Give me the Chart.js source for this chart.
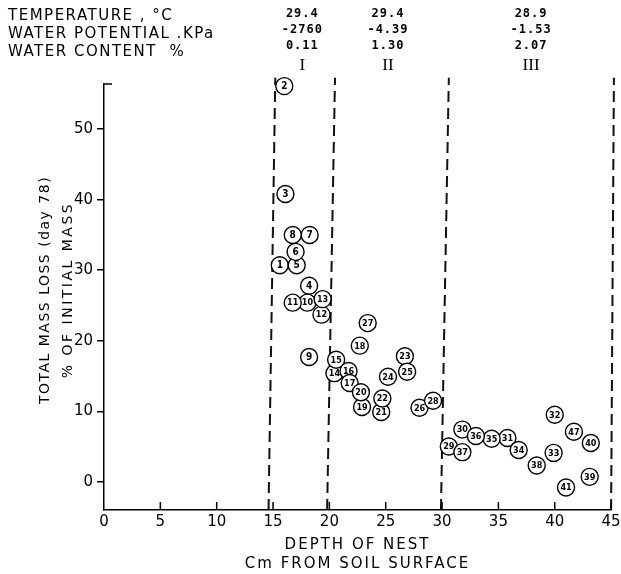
<!DOCTYPE html>
<html>
<head>
<meta charset="utf-8">
<script src="https://cdn.jsdelivr.net/npm/chart.js@4"></script>
<style>
  html, body { margin: 0; padding: 0; background: #fff; }
  #box { width: 621px; height: 574px; }
</style>
</head>
<body>
<div id="box"><canvas id="miGrafica" width="621" height="574"></canvas></div>
<script>
'use strict'

// DATOS
const nestIds = ['1','2','3','4','5','6','7','8','9','10','11','12','13','14','15','16','17','18','19','20',
  '21','22','23','24','25','26','27','28','29','30','31','32','33','34','35','36','37','38','39','40','41','47'];
const depths = [15.6, 16.0, 16.1, 18.2, 17.1, 17.0, 18.25, 16.75, 18.2, 18.05, 16.75, 19.3, 19.4, 20.45, 20.6,
  21.7, 21.8, 22.7, 22.9, 22.8, 24.6, 24.7, 26.7, 25.2, 26.9, 28.0, 23.4, 29.2, 30.6, 31.8, 35.8, 40.0, 39.9,
  36.8, 34.4, 33.0, 31.8, 38.4, 43.1, 43.2, 41.0, 41.7];
const massLoss = [30.7, 56.1, 40.8, 27.8, 30.7, 32.6, 35.0, 35.0, 17.7, 25.4, 25.4, 23.7, 25.9, 15.4, 17.3,
  15.7, 14.0, 19.3, 10.6, 12.7, 9.9, 11.8, 17.8, 14.9, 15.6, 10.5, 22.5, 11.5, 5.0, 7.4, 6.2, 9.5, 4.1,
  4.5, 6.1, 6.5, 4.2, 2.3, 0.7, 5.5, -0.8, 7.1];

// LIMITES DE LAS ZONAS (lineas discontinuas), abajo y arriba
const zoneBottomX = [14.6, 19.8, 29.9, 45.0];
const zoneTopX = [15.2, 20.5, 30.6, 45.25];
const zoneYRange = [-4, 57.3];

// CABECERA
const headerLabels = ['TEMPERATURE , °C', 'WATER POTENTIAL .KPa', 'WATER CONTENT  %'];
const zoneNames = ['I', 'II', 'III'];
const zoneTemperature = ['29.4', '29.4', '28.9'];
const zonePotential = ['-2760', '-4.39', '-1.53'];
const zoneContent = ['0.11', '1.30', '2.07'];
const zoneCenterX = [17.6, 25.2, 37.9];

const xTickValues = [0, 5, 10, 15, 20, 25, 30, 35, 40, 45];

const zoneDatasets = zoneBottomX.map((xb, i) => ({
  type: 'line',
  data: [{ x: xb, y: zoneYRange[0] }, { x: zoneTopX[i], y: zoneYRange[1] }],
  borderColor: '#111',
  borderWidth: 2,
  borderDash: [11, 6],
  pointRadius: 0,
  clip: false,
  order: 2
}));

// DIBUJA TEXTOS, NUMEROS DENTRO DE LOS CIRCULOS Y MARCAS DEL EJE X
const textosPlugin = {
  id: 'textos',
  afterDatasetsDraw(chart) {
    const ctx = chart.ctx;
    const meta = chart.getDatasetMeta(0);
    ctx.save();
    ctx.fillStyle = '#000';
    ctx.textAlign = 'center';
    ctx.textBaseline = 'middle';
    meta.data.forEach((pt, i) => {
      const txt = nestIds[i];
      ctx.font = (txt.length > 1 ? 'bold 9px' : 'bold 10px') + ' "DejaVu Sans Condensed", "DejaVu Sans"';
      ctx.fillText(txt, pt.x, pt.y + 0.5);
    });
    ctx.restore();
  },
  afterDraw(chart) {
    const ctx = chart.ctx;
    const xs = chart.scales.x;
    const area = chart.chartArea;
    ctx.save();
    ctx.strokeStyle = '#000';
    ctx.lineWidth = 1.5;
    // marcas hacia dentro del eje X
    xTickValues.forEach(v => {
      if (v === 0) return;
      const px = xs.getPixelForValue(v);
      ctx.beginPath();
      ctx.moveTo(px, area.bottom);
      ctx.lineTo(px, area.bottom - 8);
      ctx.stroke();
    });
    // remate superior del eje Y
    ctx.beginPath();
    ctx.moveTo(area.left, area.top);
    ctx.lineTo(area.left + 8, area.top);
    ctx.stroke();

    ctx.fillStyle = '#000';
    ctx.textBaseline = 'middle';
    // cabecera izquierda
    ctx.letterSpacing = '1.5px';
    ctx.font = '15px "DejaVu Sans"';
    ctx.textAlign = 'left';
    headerLabels.forEach((t, i) => ctx.fillText(t, 8, 16 + i * 18));
    // valores por zona
    ctx.letterSpacing = '1px';
    ctx.font = 'bold 12px "DejaVu Sans Mono"';
    ctx.textAlign = 'center';
    zoneCenterX.forEach((v, i) => {
      const px = xs.getPixelForValue(v);
      ctx.fillText(zoneTemperature[i], px, 14);
      ctx.fillText(zonePotential[i], px, 30);
      ctx.fillText(zoneContent[i], px, 46);
    });
    ctx.letterSpacing = '0px';
    ctx.font = '17px "Liberation Serif"';
    zoneCenterX.forEach((v, i) => {
      ctx.fillText(zoneNames[i], xs.getPixelForValue(v), 66);
    });
    // titulos de ejes
    ctx.letterSpacing = '2px';
    ctx.font = '15px "DejaVu Sans"';
    const cx = (area.left + area.right) / 2;
    ctx.fillText('DEPTH OF NEST', cx, 545);
    ctx.fillText('Cm FROM SOIL SURFACE', cx, 564);
    ctx.letterSpacing = '1.5px';
    ctx.font = '14px "DejaVu Sans"';
    ctx.save();
    ctx.translate(45, 290);
    ctx.rotate(-Math.PI / 2);
    ctx.fillText('TOTAL MASS LOSS (day 78)', 0, 0);
    ctx.letterSpacing = '2.5px';
    ctx.fillText('% OF INITIAL MASS', 0, 23);
    ctx.restore();
    ctx.restore();
  }
};

function crearGrafica() {
  const ctx = document.getElementById('miGrafica').getContext('2d');
  new Chart(ctx, {
    type: 'scatter',
    data: {
      datasets: [{
        data: depths.map((d, i) => ({ x: d, y: massLoss[i] })),
        pointRadius: 8.5,
        pointHoverRadius: 8.5,
        pointBackgroundColor: '#fff',
        pointBorderColor: '#000',
        pointBorderWidth: 1.4,
        clip: false,
        order: 1
      }, ...zoneDatasets]
    },
    options: {
      responsive: false,
      animation: false,
      events: [],
      layout: { padding: { top: 84, right: 9, left: 0, bottom: 0 } },
      scales: {
        x: {
          type: 'linear',
          min: 0,
          max: 45,
          afterFit: s => { s.height = 64; s.paddingLeft = 0; s.paddingRight = 0; },
          grid: { display: false, drawTicks: false },
          border: { display: true, color: '#000', width: 1.5 },
          ticks: {
            stepSize: 5,
            padding: 3,
            color: '#000',
            font: { family: 'DejaVu Sans', size: 15 }
          }
        },
        y: {
          type: 'linear',
          min: -4,
          max: 56.4,
          afterFit: s => { s.width = 104; s.paddingTop = 0; s.paddingBottom = 0; },
          grid: { drawOnChartArea: false, tickLength: 7, color: '#000', lineWidth: 1.5 },
          border: { display: true, color: '#000', width: 1.5 },
          ticks: {
            stepSize: 10,
            includeBounds: false,
            padding: 4,
            color: '#000',
            font: { family: 'DejaVu Sans', size: 15 }
          }
        }
      },
      plugins: {
        legend: { display: false },
        tooltip: { enabled: false }
      }
    },
    plugins: [textosPlugin]
  });
}

crearGrafica();
</script>
</body>
</html>
